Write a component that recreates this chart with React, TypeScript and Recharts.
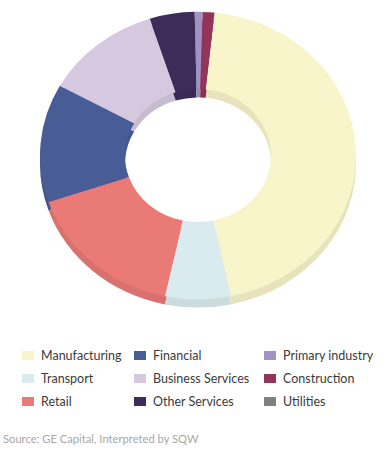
import { PieChart, Pie, Cell } from 'recharts';

const sectors = [
  'Manufacturing',
  'Transport',
  'Retail',
  'Financial',
  'Business Services',
  'Other Services',
  'Primary industry',
  'Construction',
  'Utilities',
];
const shares = [45.0, 6.7, 16.4, 13.3, 12.0, 4.6, 0.8, 1.2, 0];
const colors = [
  '#F8F5CB',
  '#DAEBEF',
  '#E97A76',
  '#485D96',
  '#D6C9DF',
  '#3D2C5A',
  '#A093C3',
  '#93345A',
  '#808080',
];

// legend reads row by row in the source, three columns
const legendOrder = [
  'Manufacturing', 'Financial', 'Primary industry',
  'Transport', 'Business Services', 'Construction',
  'Retail', 'Other Services', 'Utilities',
];

const data = sectors.map((name, i) => ({ name, value: shares[i] }));

function darken(hex: string, f: number) {
  const n = parseInt(hex.slice(1), 16);
  const r = Math.round(((n >> 16) & 255) * f);
  const g = Math.round(((n >> 8) & 255) * f);
  const b = Math.round((n & 255) * f);
  return `rgb(${r},${g},${b})`;
}

const SQUASH = 0.91;
const CX = 198;
const CY = 171;

export default function App() {
  return (
    <div
      style={{
        position: 'absolute',
        left: 0,
        top: 0,
        width: 386,
        height: 457,
        background: '#fff',
        fontFamily: 'Lato, "Open Sans", sans-serif',
        overflow: 'hidden',
      }}
    >
      <div style={{ transform: `scaleY(${SQUASH})`, transformOrigin: 'top left' }}>
        <PieChart width={386} height={345} margin={{ top: 0, right: 0, bottom: 0, left: 0 }}>
          {/* side wall of the tilted ring */}
          <Pie
            data={data}
            dataKey="value"
            cx={CX}
            cy={CY + 9}
            innerRadius={73}
            outerRadius={158}
            startAngle={84}
            endAngle={-276}
            stroke="none"
            isAnimationActive={false}
          >
            {data.map((d, i) => (
              <Cell key={d.name} fill={darken(colors[i], 0.93)} />
            ))}
          </Pie>
          <Pie
            data={data}
            dataKey="value"
            cx={CX}
            cy={CY}
            innerRadius={73}
            outerRadius={158}
            startAngle={84}
            endAngle={-276}
            stroke="none"
            isAnimationActive={false}
          >
            {data.map((d, i) => (
              <Cell key={d.name} fill={colors[i]} />
            ))}
          </Pie>
        </PieChart>
      </div>

      <div
        style={{
          position: 'absolute',
          left: 22,
          top: 347,
          display: 'grid',
          gridTemplateColumns: '112px 130px 120px',
          rowGap: 7,
          fontSize: 12.5,
          color: '#3a3a3a',
        }}
      >
        {legendOrder.map((name) => (
          <div key={name} style={{ display: 'flex', alignItems: 'center', height: 16 }}>
            <span
              style={{
                display: 'inline-block',
                width: 12,
                height: 9,
                background: colors[sectors.indexOf(name)],
                marginRight: 7,
              }}
            />
            <span style={{ whiteSpace: 'nowrap' }}>{name}</span>
          </div>
        ))}
      </div>

      <div
        style={{
          position: 'absolute',
          left: 3,
          top: 432,
          fontSize: 11.2,
          color: '#a8a8a8',
          whiteSpace: 'nowrap',
        }}
      >
        Source: GE Capital, Interpreted by SQW
      </div>
    </div>
  );
}
